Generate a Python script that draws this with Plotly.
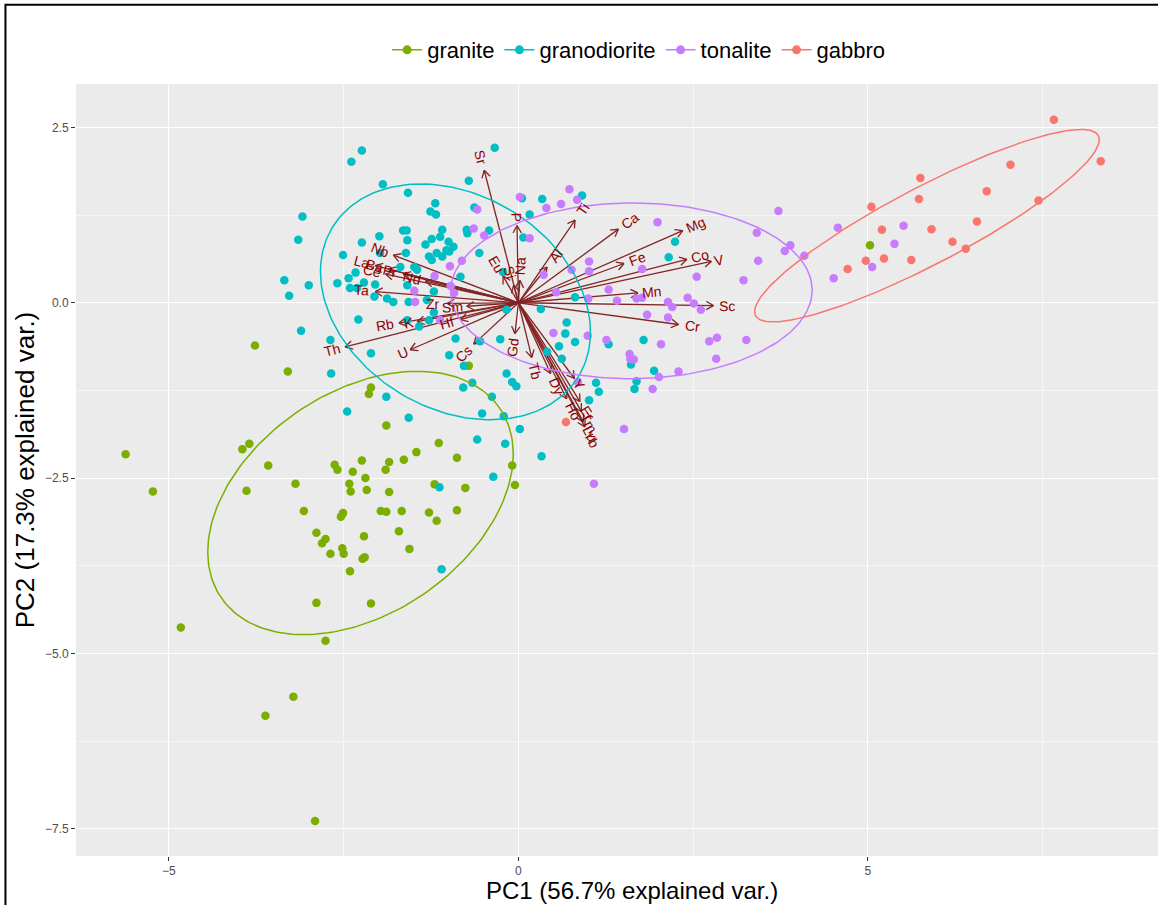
import numpy as np
import plotly.graph_objects as go

# ---------------- data ----------------
granite_pc1 = [-3.77, -3.30, -3.95, -3.85, -5.62, -3.58, -2.63, -2.59, -3.19, -5.23,
               -3.89, -3.07, -2.89, -2.76, -2.81, -2.69, -2.89, -4.83, -2.11, -2.14,
               -1.89, -1.14, -1.46, -1.64, -1.85, -2.24, -2.37, -1.90, -2.19, -2.42,
               -2.40, -2.17, -1.85, -1.20, -0.88, -0.76, -0.09, -0.05, -1.97, -1.89,
               -1.67, -1.28, -1.17, -0.88, -2.51, -2.54, -2.21, -1.71, -2.52, -2.50,
               -2.20, -2.23, -1.56, -2.41, -2.11, -2.76, -3.22, -3.62, -2.91, 5.03, -0.71]
granite_pc2 = [-0.61, -0.98, -2.09, -2.01, -2.16, -2.32, -2.31, -2.38, -2.58, -2.69,
               -2.68, -2.97, -3.28, -3.37, -3.43, -3.58, -4.28, -4.63, -1.21, -1.30,
               -1.75, -2.00, -2.13, -2.24, -2.27, -2.25, -2.41, -2.38, -2.50, -2.58,
               -2.69, -2.67, -2.70, -2.59, -2.21, -2.64, -2.32, -2.60, -2.97, -2.98,
               -2.97, -2.99, -3.11, -2.96, -3.00, -3.05, -3.33, -3.26, -3.50, -3.58,
               -3.63, -3.65, -3.51, -3.83, -4.29, -4.82, -5.62, -5.89, -7.39, 0.82, -0.90]

granodiorite_pc1 = [-0.34, -2.24, -2.39, -0.71, -1.94, -1.58, -3.09, -1.19, -1.26, -1.18,
                    -0.63, 0.05, 0.34, 0.91, 0.16, -3.15, -2.24, -1.99, -1.65, -1.60,
                    -1.59, -1.33, -1.24, -1.09, -1.12, -1.00, -0.93, -0.99, -1.17, -1.28,
                    -1.24, -1.09, -1.03, -0.74, -0.73, -0.42, 0.07, -0.56, -2.51, -1.98,
                    -1.61, -1.49, -1.69, -3.35, -3.00, -3.28, -2.59, -2.43, -2.33, -2.41,
                    -2.31, -2.21, -2.05, -2.06, -1.88, -1.79, -1.57, -1.59, -1.45, -1.31,
                    -1.21, -0.83, -0.22, -0.17, 0.32, -2.29, -1.59, -1.42, -1.21, -1.28,
                    -3.11, -2.69, -2.11, -2.68, -0.90, -0.55, -0.26, -0.99, -0.78, -0.17,
                    0.41, 0.58, 0.62, 0.69, 0.67, 0.81, 1.29, 0.81, -1.89, -2.45,
                    -1.57, -0.79, -0.66, -0.38, -0.09, -0.03, -0.52, -0.21, 0.02, -0.59,
                    -0.19, -0.36, -1.13, -1.10, 2.24, 2.15, 1.79, 1.61, 1.94, 1.69,
                    1.66, 1.11, 1.15, 1.01, 0.33]
granodiorite_pc2 = [2.21, 2.17, 2.01, 1.74, 1.69, 1.57, 1.23, 1.42, 1.30, 1.26,
                    1.36, 1.49, 1.48, 1.53, 1.26, 0.90, 0.86, 0.95, 1.03, 1.03,
                    0.89, 0.83, 0.91, 1.04, 0.94, 0.87, 0.80, 0.73, 0.71, 0.66,
                    0.61, 0.66, 0.75, 1.04, 0.99, 1.03, 0.93, 0.71, 0.68, 0.71,
                    0.71, 0.51, 0.51, 0.32, 0.25, 0.10, 0.28, 0.35, 0.43, 0.21,
                    0.21, 0.29, 0.26, 0.09, 0.06, 0.01, 0.01, 0.25, 0.47, 0.04,
                    0.16, 0.37, 0.44, -0.10, -0.09, -0.24, -0.25, -0.34, -0.14, -0.25,
                    -0.40, -0.53, -0.72, -1.01, -0.51, -0.55, -0.52, -0.75, -0.90, -1.01,
                    -0.70, -0.62, -0.80, -0.28, -0.44, -0.56, -0.59, 0.08, -1.34, -1.55,
                    -1.64, -1.21, -1.14, -1.34, -1.13, -1.19, -1.58, -1.62, -1.80, -1.95,
                    -2.01, -2.48, -2.63, -3.80, 0.87, 0.65, -0.53, -0.88, -0.97, -1.12,
                    -1.23, -1.14, -1.27, -1.39, -2.19]

tonalite_pc1 = [0.02, 0.40, 0.61, 0.73, 0.84, -0.59, -0.64, -0.49, 0.16, -0.98,
                -0.81, -1.20, -1.49, -1.48, -0.97, -0.92, 0.36, 0.76, 1.01, 1.01,
                0.54, 1.00, 1.29, 1.41, -1.12, 0.50, 0.99, 1.26, 1.99, 3.72,
                3.41, 3.81, 3.89, 4.09, 4.57, 4.51, 3.43, 3.22, 2.55, 1.77,
                1.69, 1.77, 2.14, 2.20, 2.42, 2.51, 2.61, 1.84, 2.14, 2.04,
                2.73, 2.84, 3.26, 1.59, 1.65, 1.60, 2.83, 2.29, 2.01, 1.92,
                0.85, 1.51, 1.08, 5.51, 5.38, 5.06]
tonalite_pc2 = [1.51, 1.35, 1.41, 1.62, 1.47, 1.33, 1.06, 0.96, 0.92, 0.52,
                0.60, 0.38, 0.17, 0.01, 0.24, 0.14, 0.40, 0.47, 0.59, 0.45,
                0.15, 0.06, 0.19, 0.03, -0.25, -0.43, -0.47, -0.53, 1.15, 1.31,
                1.00, 0.74, 0.82, 0.67, 1.07, 0.35, 0.60, 0.32, 0.37, 0.48,
                0.06, 0.07, 0.01, -0.06, 0.07, -0.01, -0.10, -0.17, -0.21, -0.59,
                -0.55, -0.50, -0.53, -0.73, -0.81, -0.80, -0.80, -0.98, -1.06, -1.23,
                -1.13, -1.80, -2.58, 1.10, 0.84, 0.51]

gabbro_pc1 = [7.66, 8.33, 7.04, 5.75, 5.73, 6.70, 7.44, 5.05, 5.20, 5.91,
              6.56, 6.21, 6.40, 5.23, 4.97, 5.62, 4.71, 0.68]
gabbro_pc2 = [2.61, 2.02, 1.97, 1.78, 1.48, 1.59, 1.46, 1.37, 1.04, 1.05,
              1.16, 0.87, 0.77, 0.63, 0.60, 0.61, 0.48, -1.70]

var_names = ["Sr", "P", "Ti", "Al", "Na", "Eu", "Si", "Nb", "La", "Ce",
             "Ba", "Pr", "Nd", "Ta", "Zr", "Sm", "Hf", "K", "Rb", "Th",
             "U", "Cs", "Gd", "Tb", "Y", "Dy", "Ho", "Er", "Tm", "Yb",
             "Lu", "Ca", "Mg", "Fe", "Co", "V", "Mn", "Sc", "Cr"]
var_pc1 = [-0.49, -0.02, 0.81, 0.41, 0.02, -0.22, -0.07, -1.79, -2.05, -1.90,
           -1.86, -1.65, -1.33, -2.05, -1.02, -0.74, -0.83, -1.45, -1.71, -2.48,
           -1.55, -0.64, -0.05, 0.19, 0.80, 0.46, 0.69, 0.88, 0.90, 0.95,
           0.93, 1.43, 2.35, 1.51, 2.41, 2.76, 1.71, 2.79, 2.29]
var_pc2 = [1.89, 1.10, 1.18, 0.51, 0.32, 0.38, 0.25, 0.68, 0.53, 0.41,
           0.48, 0.41, 0.31, 0.16, -0.01, -0.05, -0.24, -0.27, -0.29, -0.63,
           -0.67, -0.59, -0.44, -0.78, -1.08, -1.01, -1.37, -1.41, -1.55, -1.77,
           -1.70, 1.05, 1.03, 0.56, 0.62, 0.59, 0.14, -0.04, -0.31]

groups = ["granite", "granodiorite", "tonalite", "gabbro"]
colors = {"granite": "#7CAE00", "granodiorite": "#00BFC4",
          "tonalite": "#C77CFF", "gabbro": "#F8766D"}
group_data = {
    "granite": (granite_pc1, granite_pc2),
    "granodiorite": (granodiorite_pc1, granodiorite_pc2),
    "tonalite": (tonalite_pc1, tonalite_pc2),
    "gabbro": (gabbro_pc1, gabbro_pc2),
}

x_title = "PC1 (56.7% explained var.)"
y_title = "PC2 (17.3% explained var.)"

FONT = "Liberation Sans, Arial, sans-serif"
ARROW_COL = "#832424"
TEXT_COL = "#8B0000"

fig = go.Figure()

# ---------------- arrows (drawn first, below points) ----------------
head_len = 0.12
ang = np.deg2rad(30)
ax_list, ay_list = [], []
for vx, vy in zip(var_pc1, var_pc2):
    n = np.hypot(vx, vy)
    ux, uy = vx / n, vy / n
    ax_list += [0, vx, None]
    ay_list += [0, vy, None]
    for s in (1, -1):
        c, sn = np.cos(s * ang), np.sin(s * ang)
        rx = ux * c - uy * sn
        ry = ux * sn + uy * c
        ax_list += [vx - head_len * rx, vx, None]
        ay_list += [vy - head_len * ry, vy, None]
fig.add_trace(go.Scatter(x=ax_list, y=ay_list, mode="lines",
                         line=dict(color=ARROW_COL, width=1.3),
                         hoverinfo="skip", showlegend=False))

# ---------------- points ----------------
for g in groups:
    px, py = group_data[g]
    fig.add_trace(go.Scatter(x=px, y=py, mode="markers",
                             marker=dict(color=colors[g], size=8.5, line=dict(width=0)),
                             showlegend=False, name=g))

# ---------------- ellipses (normal data ellipse, prob 0.68) ----------------
ed = np.sqrt(-2 * np.log(1 - 0.68))
theta = np.linspace(-np.pi, np.pi, 200)
circle = np.column_stack([np.cos(theta), np.sin(theta)])
for g in groups:
    px, py = np.array(group_data[g][0]), np.array(group_data[g][1])
    sigma = np.cov(np.vstack([px, py]))
    mu = np.array([px.mean(), py.mean()])
    L = np.linalg.cholesky(sigma)
    ell = circle @ L.T * ed + mu
    fig.add_trace(go.Scatter(x=ell[:, 0], y=ell[:, 1], mode="lines",
                             line=dict(color=colors[g], width=1.5),
                             hoverinfo="skip", showlegend=False))

# ---------------- legend entries ----------------
for g in groups:
    fig.add_trace(go.Scatter(x=[None], y=[None], mode="lines+markers", name=g,
                             line=dict(color=colors[g], width=1.5),
                             marker=dict(color=colors[g], size=9)))

# ---------------- variable labels ----------------
FS = 14
for name, vx, vy in zip(var_names, var_pc1, var_pc2):
    n = np.hypot(vx, vy)
    ux, uy = vx / n, vy / n
    w = sum(0.68 if ch.isupper() else 0.55 for ch in name) * FS
    d = 0.75 * w + 1
    angle = -np.degrees(np.arctan(vy / vx))
    fig.add_annotation(x=vx, y=vy, xref="x", yref="y", text=name, showarrow=False,
                       textangle=angle, xshift=d * ux, yshift=d * uy,
                       xanchor="center", yanchor="middle",
                       font=dict(family=FONT, size=FS, color=TEXT_COL))

# ---------------- x-axis title (panel is cut at the right edge) ----------------
fig.add_annotation(x=0.5139, y=-0.0253, xref="paper", yref="paper", text=x_title,
                   showarrow=False, xanchor="center", yanchor="top", borderpad=0,
                   font=dict(family=FONT, size=24, color="black"))

# ---------------- frame around the image ----------------
fig.add_shape(type="rect", xref="paper", yref="paper",
              x0=-0.0652, x1=1.05, y0=-0.1, y1=1.1025,
              line=dict(color="black", width=2), fillcolor="rgba(0,0,0,0)", layer="above")

axis_common = dict(showgrid=True, gridcolor="white", gridwidth=1.2, zeroline=False,
                   ticks="outside", ticklen=4, tickwidth=1, tickcolor="#333333",
                   tickfont=dict(family=FONT, size=12, color="#4D4D4D"),
                   showline=False)

fig.update_layout(
    width=1158, height=905,
    margin=dict(l=76, r=0, t=84, b=49),
    paper_bgcolor="white", plot_bgcolor="#EBEBEB",
    font=dict(family=FONT),
    xaxis=dict(range=[-6.33, 9.15], tickvals=[-5, 0, 5], ticktext=["\u22125", "0", "5"],
               minor=dict(tickvals=[-2.5, 2.5, 7.5], showgrid=True, gridcolor="#F6F6F6",
                          gridwidth=0.6, ticklen=0),
               **axis_common),
    yaxis=dict(range=[-7.89, 3.12], tickvals=[2.5, 0, -2.5, -5, -7.5],
               ticktext=["2.5", "0.0", "\u22122.5", "\u22125.0", "\u22127.5"],
               minor=dict(tickvals=[1.25, -1.25, -3.75, -6.25], showgrid=True, gridcolor="#F6F6F6",
                          gridwidth=0.6, ticklen=0),
               title=dict(text=y_title, font=dict(family=FONT, size=26, color="black"), standoff=2),
               **axis_common),
    legend=dict(orientation="h", x=0.520, xanchor="center", y=1.044, yanchor="middle",
                font=dict(family=FONT, size=22, color="black"), bgcolor="rgba(0,0,0,0)",
                itemwidth=30, traceorder="normal"),
    showlegend=True,
)

fig.write_html("out.html")
